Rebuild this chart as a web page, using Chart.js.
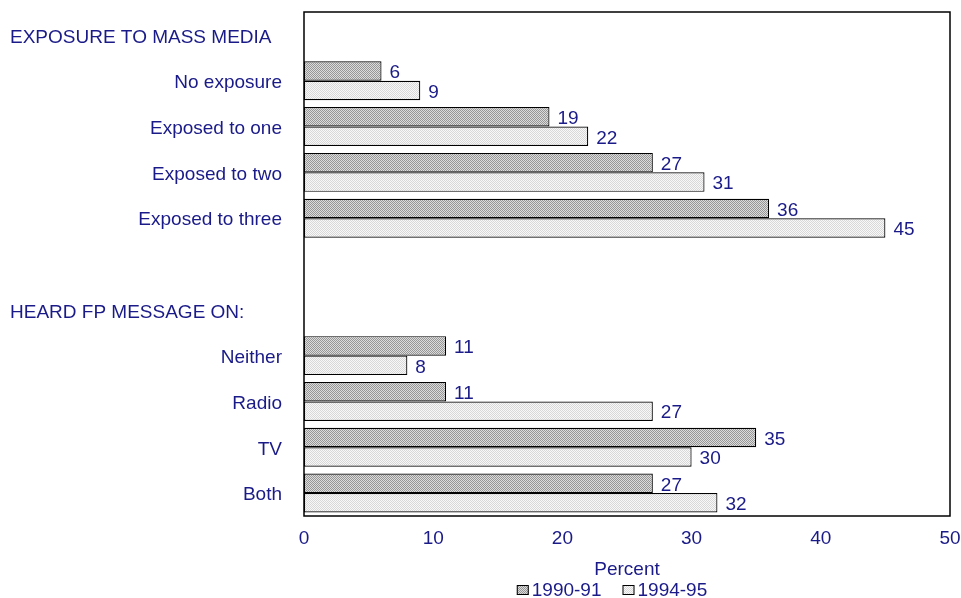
<!DOCTYPE html>
<html>
<head>
<meta charset="utf-8">
<script src="https://cdn.jsdelivr.net/npm/chart.js@4.4.1/dist/chart.umd.min.js"></script>
<style>
  html, body { margin: 0; padding: 0; background: #fff; }
  #wrap { width: 961px; height: 598px; }
</style>
</head>
<body>
<div id="wrap"><canvas id="myChart"></canvas></div>
<script>
// rows of the chart; group headings carry no bars
var categories = ['', 'No exposure', 'Exposed to one', 'Exposed to two', 'Exposed to three', '',
                  '', 'Neither', 'Radio', 'TV', 'Both'];
var headings = ['EXPOSURE TO MASS MEDIA', '', '', '', '', '',
                'HEARD FP MESSAGE ON:', '', '', '', ''];
var series1990 = [null, 6, 19, 27, 36, null, null, 11, 11, 35, 27];
var series1994 = [null, 9, 22, 31, 45, null, null, 8, 27, 30, 32];
var xTicks = [0, 10, 20, 30, 40, 50];

var ink = '#1a1a88';
var font = { family: 'Arial, "Liberation Sans", sans-serif', size: 19 };
var fontCss = font.size + 'px ' + font.family;

function dotPattern(a, b) {
    var c = document.createElement('canvas');
    c.width = 2; c.height = 2;
    var g = c.getContext('2d');
    g.fillStyle = b; g.fillRect(0, 0, 2, 2);
    g.fillStyle = a; g.fillRect(0, 0, 1, 1); g.fillRect(1, 1, 1, 1);
    return g.createPattern(c, 'repeat');
}
var darkFill = dotPattern('#969696', '#dcdcdc');
var lightFill = dotPattern('#d8d8d8', '#f8f8f8');

var frame = {
    id: 'frame',
    afterDatasetsDraw: function (chart) {
        var ctx = chart.ctx, a = chart.chartArea;
        ctx.save();
        ctx.strokeStyle = '#000';
        ctx.lineWidth = 1.5;
        ctx.strokeRect(a.left, a.top, a.right - a.left, a.bottom - a.top);

        // value labels at the bar ends
        ctx.fillStyle = ink;
        ctx.font = fontCss;
        ctx.textBaseline = 'middle';
        ctx.textAlign = 'left';
        chart.data.datasets.forEach(function (ds, i) {
            chart.getDatasetMeta(i).data.forEach(function (bar, j) {
                if (ds.data[j] == null) return;
                ctx.fillText(String(ds.data[j]), bar.x + 8, bar.y + 2);
            });
        });

        // group headings, flush left
        var y = chart.scales.y;
        headings.forEach(function (h, j) {
            if (h) ctx.fillText(h, 10, y.getPixelForValue(j) + 3);
        });

        // legend: small swatch, then the series name
        var items = chart.data.datasets.map(function (ds) {
            return { fill: ds.backgroundColor, text: ds.label, w: ctx.measureText(ds.label).width };
        });
        var total = 0;
        items.forEach(function (it, k) { total += 15 + it.w + (k ? 21 : 0); });
        var x = (a.left + a.right) / 2 - 15 - total / 2;
        var ly = 590;
        items.forEach(function (it) {
            ctx.fillStyle = it.fill;
            ctx.fillRect(x, ly - 5, 12, 10);
            ctx.strokeStyle = '#000';
            ctx.lineWidth = 1;
            ctx.strokeRect(x + 0.5, ly - 4.5, 11, 9);
            ctx.fillStyle = ink;
            ctx.fillText(it.text, x + 15, ly + 1);
            x += 15 + it.w + 21;
        });
        ctx.restore();
    }
};

var ctx = document.getElementById('myChart');
var myChart = new Chart(ctx, {
    type: 'bar',
    data: {
        labels: categories,
        datasets: [{
            label: '1990-91',
            data: series1990,
            backgroundColor: darkFill,
            borderColor: '#000',
            borderWidth: 1.2,
            borderSkipped: false
        }, {
            label: '1994-95',
            data: series1994,
            backgroundColor: lightFill,
            borderColor: '#000',
            borderWidth: 1.2,
            borderSkipped: false
        }]
    },
    plugins: [frame],
    options: {
        indexAxis: 'y',
        responsive: true,
        maintainAspectRatio: false,
        animation: false,
        categoryPercentage: 0.85,
        barPercentage: 1,
        layout: { padding: { top: 12, right: 11, left: 0, bottom: 20 } },
        plugins: {
            tooltip: { enabled: false },
            legend: { display: false }
        },
        scales: {
            x: {
                min: 0,
                max: 50,
                afterBuildTicks: function (s) {
                    s.ticks = xTicks.map(function (v) { return { value: v }; });
                },
                grid: { display: false },
                border: { display: false },
                ticks: { color: ink, font: font, padding: 3, maxRotation: 0 },
                title: { display: true, text: 'Percent', color: ink, font: font, padding: { top: 0, bottom: -3 } },
                afterFit: function (s) {
                    s.height = 62;
                    s.paddingLeft = 0;
                    s.paddingRight = 0;
                }
            },
            y: {
                grid: { display: false },
                border: { display: false },
                ticks: { color: ink, font: font, padding: 14, autoSkip: false, labelOffset: 2 },
                afterFit: function (s) {
                    s.width = 304;
                    s.paddingTop = 0;
                    s.paddingBottom = 0;
                }
            }
        }
    }
});
</script>
</body>
</html>
